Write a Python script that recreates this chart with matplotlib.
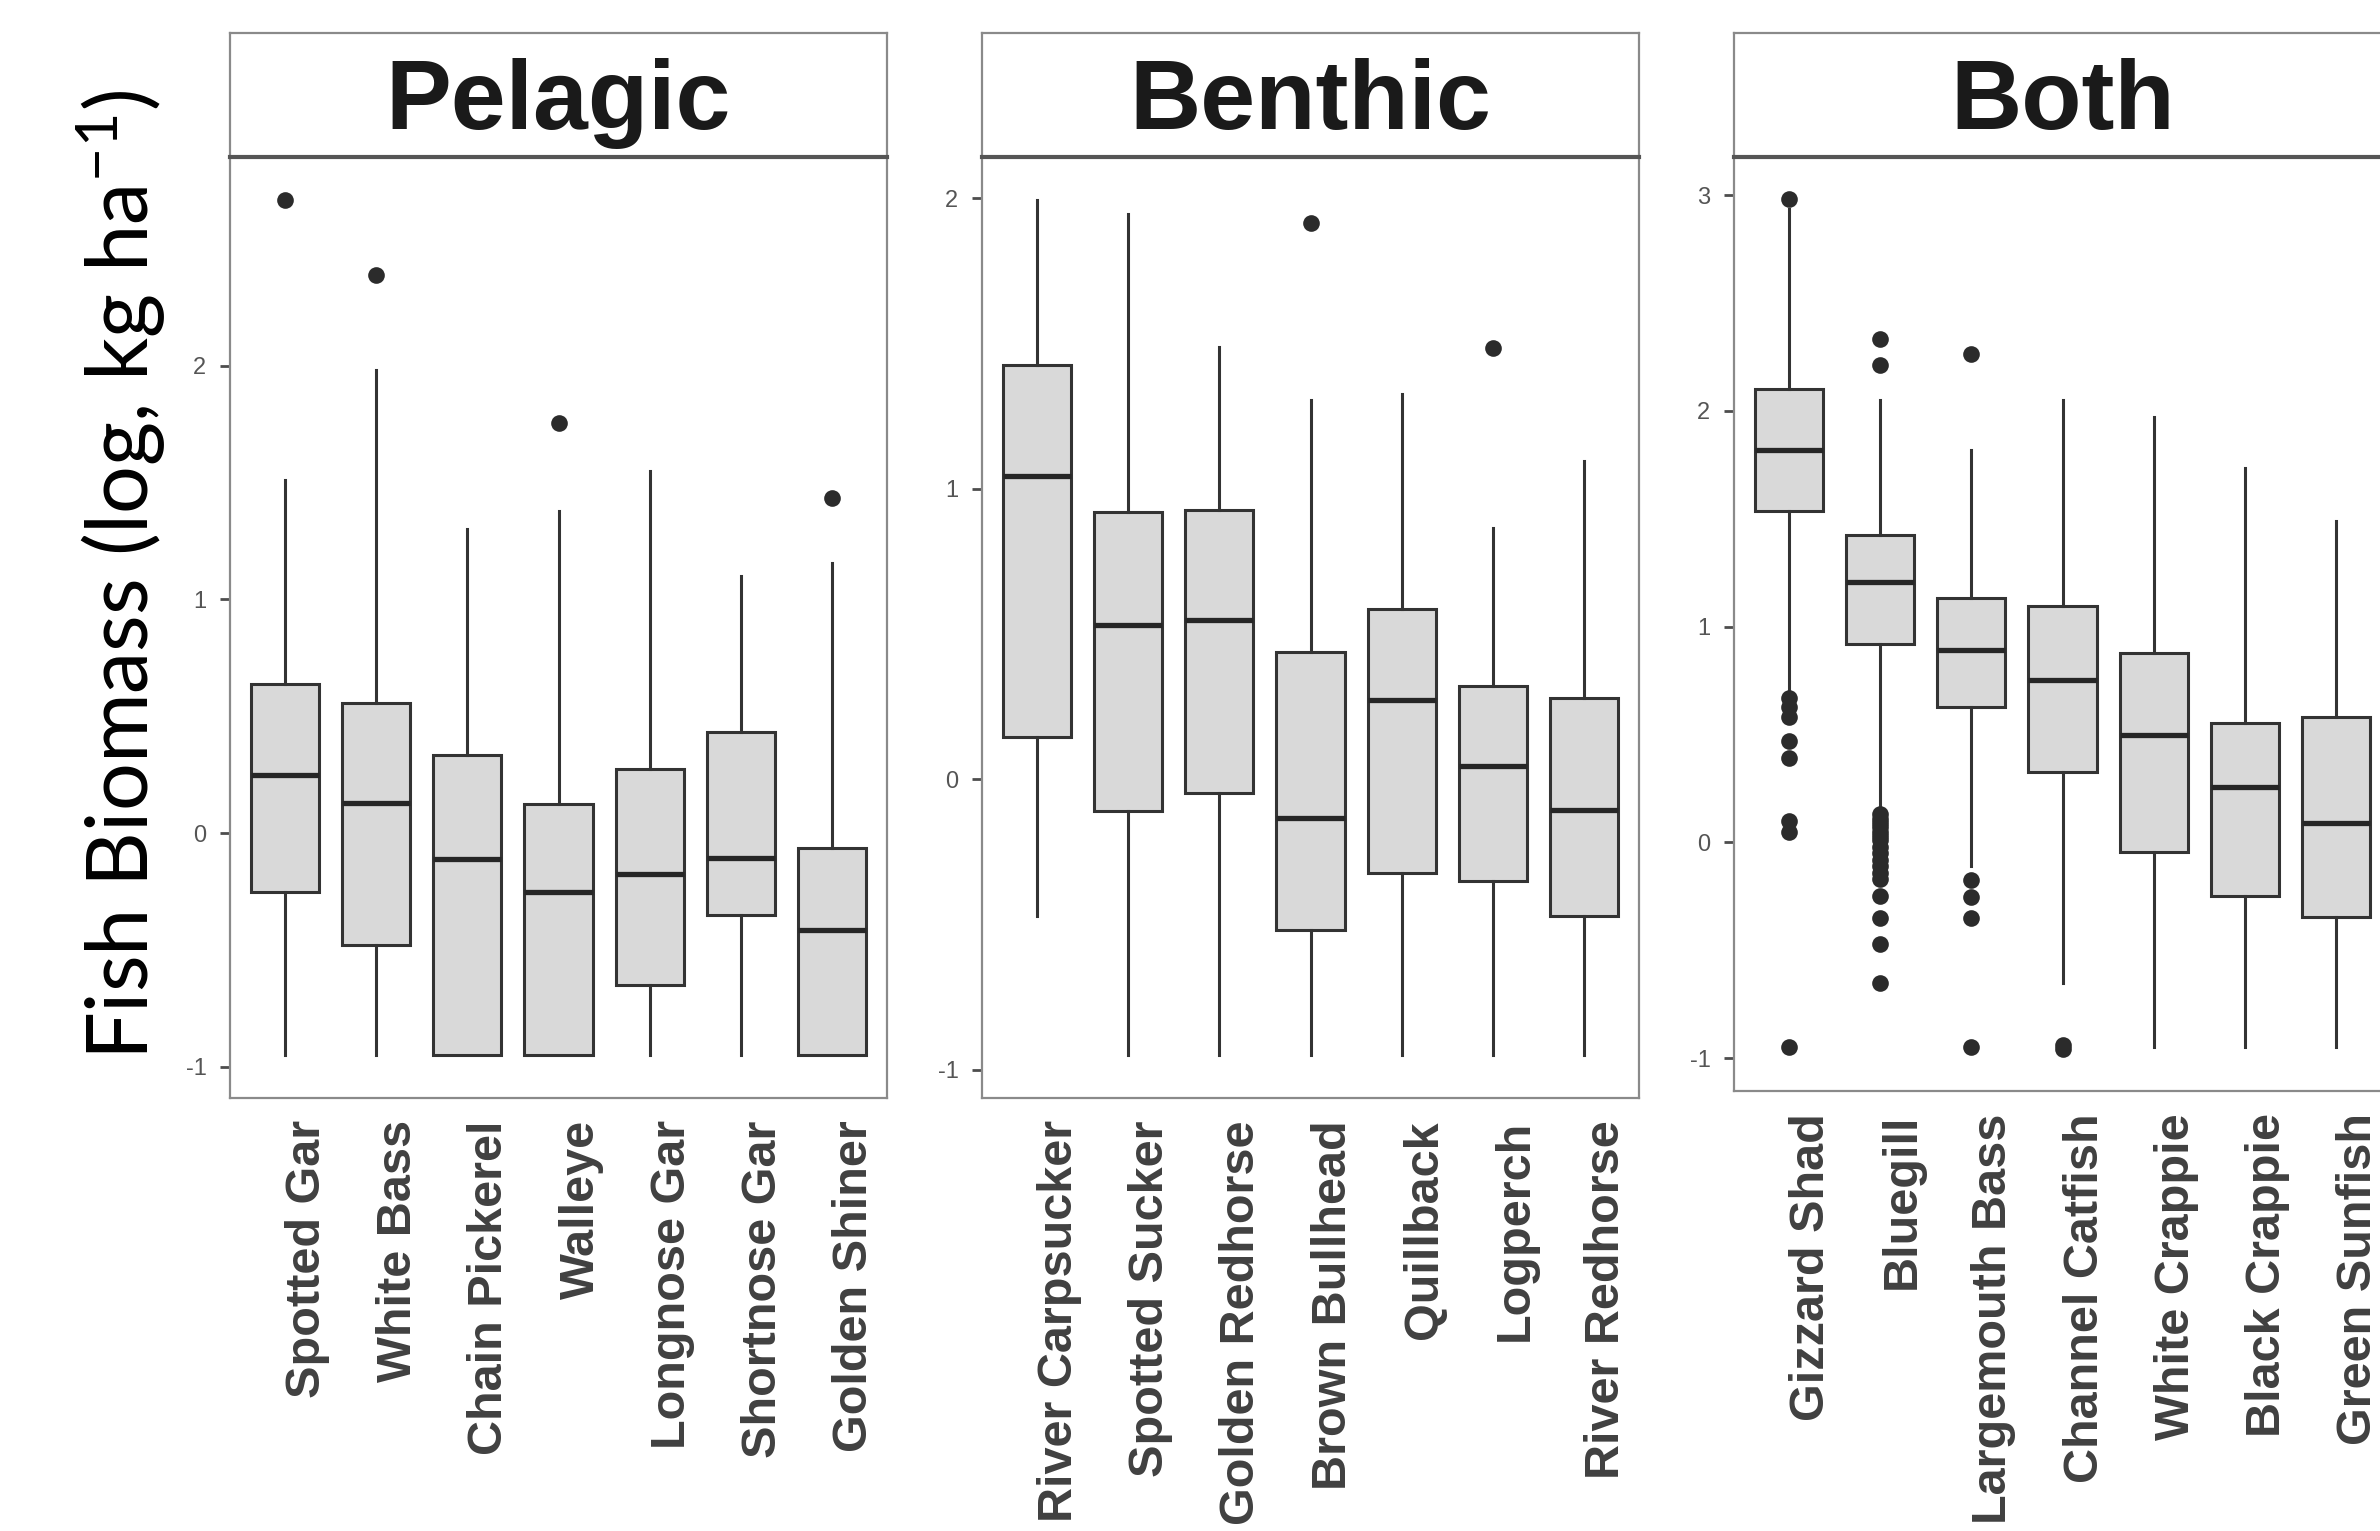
import matplotlib
matplotlib.use("Agg")
import matplotlib.pyplot as plt
from matplotlib.ticker import MultipleLocator

plt.rcParams['font.family'] = ['Liberation Sans', 'DejaVu Sans']
plt.rcParams['axes.unicode_minus'] = False
plt.rcParams['mathtext.fontset'] = 'custom'
plt.rcParams['mathtext.rm'] = 'Lato'
plt.rcParams['mathtext.default'] = 'regular'

# values (log10 biomass)
pelagic_species = ["Spotted Gar", "White Bass", "Chain Pickerel", "Walleye",
                   "Longnose Gar", "Shortnose Gar", "Golden Shiner"]
pelagic_lo = [-0.95, -0.95, -0.95, -0.95, -0.95, -0.95, -0.95]
pelagic_q1 = [-0.25, -0.48, -0.95, -0.95, -0.65, -0.35, -0.95]
pelagic_med = [0.25, 0.13, -0.11, -0.25, -0.175, -0.105, -0.415]
pelagic_q3 = [0.64, 0.555, 0.333, 0.123, 0.276, 0.432, -0.063]
pelagic_hi = [1.51, 1.98, 1.30, 1.377, 1.55, 1.10, 1.158]
pelagic_out = [[2.71], [2.39], [], [1.755], [], [], [1.434]]

benthic_species = ["River Carpsucker", "Spotted Sucker", "Golden Redhorse",
                   "Brown Bullhead", "Quillback", "Logperch", "River Redhorse"]
benthic_lo = [-0.472, -0.95, -0.95, -0.95, -0.95, -0.95, -0.95]
benthic_q1 = [0.145, -0.109, -0.048, -0.52, -0.324, -0.351, -0.472]
benthic_med = [1.045, 0.53, 0.549, -0.135, 0.271, 0.046, -0.106]
benthic_q3 = [1.425, 0.919, 0.927, 0.436, 0.586, 0.319, 0.278]
benthic_hi = [1.994, 1.945, 1.488, 1.304, 1.324, 0.864, 1.094]
benthic_out = [[], [], [], [1.914], [], [1.483], []]

both_species = ["Gizzard Shad", "Bluegill", "Largemouth Bass", "Channel Catfish",
                "White Crappie", "Black Crappie", "Green Sunfish"]
both_lo = [0.70, 0.145, -0.107, -0.653, -0.95, -0.95, -0.95]
both_q1 = [1.536, 0.922, 0.63, 0.328, -0.045, -0.247, -0.347]
both_med = [1.82, 1.205, 0.89, 0.753, 0.497, 0.256, 0.088]
both_q3 = [2.10, 1.425, 1.133, 1.097, 0.877, 0.552, 0.581]
both_hi = [2.935, 2.052, 1.82, 2.052, 1.974, 1.734, 1.49]
both_out = [[2.98, 0.67, 0.63, 0.58, 0.47, 0.39, 0.10, 0.05, -0.95],
            [2.334, 2.214, 0.13, 0.11, 0.09, 0.07, 0.05, 0.03, 0.01, -0.02,
             -0.05, -0.08, -0.11, -0.14, -0.17, -0.25, -0.35, -0.47, -0.65],
            [2.263, -0.172, -0.253, -0.351, -0.95],
            [-0.94, -0.955],
            [], [], []]

panels = [
    ("Pelagic", pelagic_species, pelagic_lo, pelagic_q1, pelagic_med, pelagic_q3, pelagic_hi, pelagic_out),
    ("Benthic", benthic_species, benthic_lo, benthic_q1, benthic_med, benthic_q3, benthic_hi, benthic_out),
    ("Both", both_species, both_lo, both_q1, both_med, both_q3, both_hi, both_out),
]

W, H = 2380, 1531
fig = plt.figure(figsize=(W / 100, H / 100), dpi=100)

# pixel boxes of each panel: left, top of plot area, bottom of plot area
panel_px = [(230, 157, 1098), (982, 157, 1098), (1734, 157, 1091)]
panel_w = 657
strip_top = 33

frame_col = '#8a8a8a'

for (title, species, lo, q1, med, q3, hi, out), (left, top, bottom) in zip(panels, panel_px):
    ax = fig.add_axes([left / W, 1 - bottom / H, panel_w / W, (bottom - top) / H])
    stats = []
    for i in range(len(species)):
        stats.append(dict(whislo=lo[i], q1=q1[i], med=med[i], q3=q3[i],
                          whishi=hi[i], fliers=out[i]))
    ax.bxp(stats, positions=range(1, len(species) + 1), widths=0.75,
           patch_artist=True, showcaps=False,
           boxprops=dict(facecolor='#d9d9d9', edgecolor='#333333', linewidth=2.2),
           medianprops=dict(color='#262626', linewidth=3.8, solid_capstyle='butt'),
           whiskerprops=dict(color='#333333', linewidth=2.2),
           flierprops=dict(marker='o', markerfacecolor='#2b2b2b',
                           markeredgecolor='none', markersize=12))

    allv = lo + hi + [v for o in out for v in o]
    vmin, vmax = min(allv), max(allv)
    span = vmax - vmin
    ax.set_ylim(vmin - 0.05 * span, vmax + 0.05 * span)
    ax.set_xlim(0.4, len(species) + 0.6)
    ax.yaxis.set_major_locator(MultipleLocator(1))

    ax.set_xticks(range(1, len(species) + 1))
    ax.set_xticklabels(species, rotation=90, ha='left', va='top',
                       fontsize=35, fontweight='bold', color='#404040')
    ax.tick_params(axis='x', length=0, pad=16)
    ax.tick_params(axis='y', length=7, width=2, color='#4d4d4d', pad=10,
                   labelsize=17, labelcolor='#555555')

    for s in ['left', 'right', 'bottom']:
        ax.spines[s].set_color(frame_col)
        ax.spines[s].set_linewidth(1.6)
    ax.spines['top'].set_visible(False)

    # facet strip
    sax = fig.add_axes([left / W, 1 - top / H, panel_w / W, (top - strip_top) / H])
    sax.set_xticks([])
    sax.set_yticks([])
    for s in ['left', 'right', 'top']:
        sax.spines[s].set_color(frame_col)
        sax.spines[s].set_linewidth(1.6)
    sax.spines['bottom'].set_color('#555555')
    sax.spines['bottom'].set_linewidth(3)
    sax.text(0.5, 0.43, title, transform=sax.transAxes, ha='center', va='center',
             fontsize=71, fontweight='bold', color='#1a1a1a')

fig.text(121 / W, 1 - 575 / H, 'Fish Biomass (log, kg ha$^{-1}$)', rotation=90,
         ha='center', va='center', fontsize=61, family='Lato', color='black')

fig.savefig("out.png", dpi=100)
